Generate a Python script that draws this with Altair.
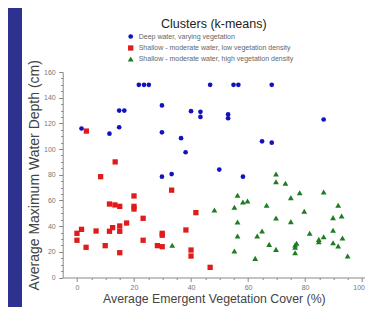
import altair as alt
import pandas as pd

categories = [
    "Deep water, varying vegetation",
    "Shallow - moderate water, low vegetation density",
    "Shallow - moderate water, high vegetation density",
]
colors = ["#1212c0", "#e01b1b", "#1e7d22"]
shapes = ["circle", "square", "triangle-up"]
sizes = [22, 34, 30]

deep_x = [21.7, 23.5, 25.2, 46.7, 54.9, 56.6, 68.3, 1.6, 14.8, 16.6, 11.4, 14.8, 29.8, 29.8,
          40.0, 43.3, 43.3, 53.0, 53.0, 86.5, 36.5, 38.1, 64.9, 68.3, 49.9, 58.2, 29.8, 33.2]
deep_y = [150, 150, 150, 150, 150, 150, 150, 116, 130, 130, 112, 117, 134, 113,
          129.5, 129, 125, 127, 124, 123, 108.5, 97.5, 106, 105, 84, 78.5, 78.5, 80.5]

low_x = [3.3, 13.4, 8.3, 33.2, 20.0, 11.4, 13.3, 15.0, 20.0, 20.0, 41.7, 23.2, 17.4, 12.5,
         15.0, 15.0, 11.4, 6.7, 1.6, 0.0, 0.0, 3.2, 9.9, 15.0, 23.2, 28.2, 29.9, 29.9, 29.9,
         38.2, 40.0, 40.0, 46.7]
low_y = [114, 90, 78.5, 68, 63.5, 57.2, 56.5, 55.4, 55.4, 53.3, 50.5, 46.1, 42.4, 38.8,
         40.1, 36, 36, 36.2, 37.5, 34.4, 29, 23.5, 24.8, 19.3, 29, 24.8, 34.4, 32.9, 24,
         37, 21.4, 16.7, 7.9]

high_x = [33.4, 48.2, 55.2, 55.2, 56.3, 56.3, 56.3, 58.2, 59.8, 62.5, 63.2, 64.9, 66.5, 67.4,
          69.8, 69.8, 69.8, 69.8, 73.1, 75.0, 75.0, 76.5, 77.0, 76.5, 76.5, 78.1, 79.7, 81.6,
          84.8, 84.8, 86.5, 86.5, 89.8, 89.8, 89.8, 91.6, 91.6, 92.8, 93.1, 94.9]
high_y = [25.1, 52.6, 54.7, 20.6, 64, 43.2, 32.3, 58.8, 59.6, 14.9, 32.3, 36.2, 56.2, 25.8,
          80.6, 74.6, 46.3, 21.9, 73.4, 62.2, 43.5, 25.3, 26.6, 23.5, 19.3, 66, 51.6, 34.4,
          29.7, 27.9, 66.6, 31.8, 46.6, 36.8, 27.1, 56.2, 24.5, 47.9, 30.8, 16.7]

x_ticks = list(range(0, 101, 5))
y_ticks = list(range(0, 161, 5))

rows = []
for cat, xs, ys in zip(categories, [deep_x, low_x, high_x], [deep_y, low_y, high_y]):
    for xv, yv in zip(xs, ys):
        rows.append({"cover": xv, "depth": yv, "cluster": cat})
df = pd.DataFrame(rows)

PAD_L, PAD_T = 54.7, 64
W = 357 - PAD_L
H = 205.5
PAD_B = 299 - PAD_T - H

FONT = "Liberation Sans"
tick_cond = {"condition": {"test": "datum.value % 20 === 0", "value": 4}, "value": 2}
last_label_shift = {"condition": {"test": "datum.value === 100", "value": -3.5}, "value": 0}

legend = alt.Legend(
    title=None, orient="none", legendX=64, legendY=-39,
    labelFontSize=7, labelFont=FONT, labelColor="#666666",
    symbolSize=16, rowPadding=3.5, padding=0, labelOffset=4, labelLimit=400,
)

points = alt.Chart(df).mark_point(filled=True, opacity=1).encode(
    x=alt.X("cover:Q", scale=alt.Scale(domain=[-5, 101], nice=False, zero=False),
            axis=alt.Axis(title="Average Emergent Vegetation Cover (%)", values=x_ticks,
                          labelExpr="datum.value % 20 === 0 ? datum.label : ''",
                          tickSize=tick_cond, labelPadding=2, titlePadding=2,
                          labelOffset=last_label_shift,
                          labelOverlap=False, labelFlush=False, titleFontSize=12.3)),
    y=alt.Y("depth:Q", scale=alt.Scale(domain=[0, 160], nice=False),
            axis=alt.Axis(title="Average Maximum Water Depth (cm)", values=y_ticks,
                          labelExpr="datum.value % 20 === 0 ? datum.label : ''",
                          tickSize=tick_cond, labelPadding=3.5, titlePadding=2,
                          labelOverlap=False, labelFlush=False, titleFontSize=14)),
    color=alt.Color("cluster:N", scale=alt.Scale(domain=categories, range=colors), legend=legend),
    shape=alt.Shape("cluster:N", scale=alt.Scale(domain=categories, range=shapes), legend=legend),
    size=alt.Size("cluster:N", scale=alt.Scale(domain=categories, range=sizes), legend=None),
)

strip = alt.Chart(pd.DataFrame({"a": [0]})).mark_rect(color="#2d3190").encode(
    x=alt.value(-PAD_L), x2=alt.value(-PAD_L + 14),
    y=alt.value(-PAD_T), y2=alt.value(H + PAD_B),
)

chart = alt.layer(strip, points).properties(
    width=W, height=H,
    title=alt.TitleParams("Clusters (k-means)", fontSize=12.5, font=FONT, fontWeight="normal",
                          color="#222222", anchor="middle", frame="group",
                          baseline="alphabetic", offset=-32),
    padding={"left": PAD_L, "top": PAD_T, "right": 0, "bottom": PAD_B},
    autosize="none",
    background="white",
).configure_view(stroke=None).configure_axis(
    labelFont=FONT, titleFont=FONT, labelFontSize=7, labelColor="#777777",
    titleColor="#444444", titleFontWeight="normal", grid=False,
    domainColor="#888888", tickColor="#888888", domainWidth=1, tickWidth=1,
)

chart.save("out.html", embed_options={"renderer": "svg", "actions": False})
